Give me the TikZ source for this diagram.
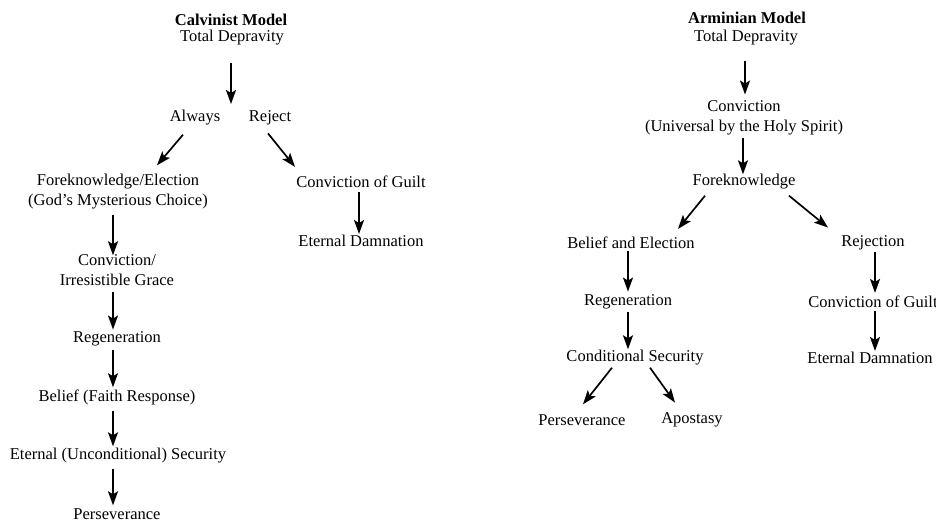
\documentclass[tikz,border=0pt]{standalone}
\usepackage{fontspec}
\setmainfont{Liberation Serif}
\usetikzlibrary{arrows.meta}
\begin{document}
\begin{tikzpicture}[x=1pt,y=-1pt,
  lbl/.style={inner sep=0pt,align=center,font=\fontsize{16.5}{20}\selectfont},
  ttl/.style={lbl,font=\fontsize{16.5}{20}\selectfont\bfseries},
  arr/.style={line width=1.7pt,-{Stealth[length=14pt,width=10pt,inset=3pt]}}]
\useasboundingbox (0,0) rectangle (936,521);

% Calvinist column
\node[ttl] (cm)  at (231,20)  {Calvinist Model};
\node[lbl] (ltd) at (232,38)  {Total Depravity};
\coordinate (split) at (231,104);
\node[lbl] (alw) at (195,118) {Always};
\node[lbl] (rej) at (270,118) {Reject};
\node[lbl] (fe)  at (118,192) {Foreknowledge/Election\\(God's Mysterious Choice)};
\node[lbl] (cg)  at (361,182) {Conviction of Guilt};
\node[lbl] (ed)  at (361,241) {Eternal Damnation};
\node[lbl] (cig) at (117,270) {Conviction/\\Irresistible Grace};
\node[lbl] (reg) at (117,339) {Regeneration};
\node[lbl] (bel) at (117,397) {Belief (Faith Response)};
\node[lbl] (ets) at (118,456) {Eternal (Unconditional) Security};
\node[lbl] (per) at (117,514) {Perseverance};

\draw[arr] ([shift={(-1,17)}]ltd.south) -- (split);
\draw[arr] ([shift={(-12,9)}]alw.south) -- ([shift={(39,-9)}]fe.north);
\draw[arr] ([shift={(-2,8)}]rej.south) -- ([shift={(-66,-9)}]cg.north);
\draw[arr] ([shift={(-2,4)}]cg.south) -- ([shift={(-2,-1)}]ed.north);
\draw[arr] ([shift={(-5,5)}]fe.south) -- ([shift={(-4,1)}]cig.north);
\draw[arr] ([shift={(-4,6)}]cig.south) -- ([shift={(-4,-2)}]reg.north);
\draw[arr] ([shift={(-4,4)}]reg.south) -- ([shift={(-4,-2)}]bel.north);
\draw[arr] ([shift={(-4,6)}]bel.south) -- ([shift={(-5,-2)}]ets.north);
\draw[arr] ([shift={(-5,5)}]ets.south) -- ([shift={(-4,-3)}]per.north);

% Arminian column
\node[ttl] (am)   at (747,18)  {Arminian Model};
\node[lbl] (rtd)  at (746,38)  {Total Depravity};
\node[lbl] (conv) at (744,118) {Conviction\\(Universal by the Holy Spirit)};
\node[lbl] (fk)   at (744,182) {Foreknowledge};
\node[lbl] (be)   at (631,243) {Belief and Election};
\node[lbl] (rejn) at (873,243) {Rejection};
\node[lbl] (rreg) at (628,302) {Regeneration};
\node[lbl] (cs)   at (635,358) {Conditional Security};
\node[lbl] (rper) at (582,420) {Perseverance};
\node[lbl] (apo)  at (692,420) {Apostasy};
\node[lbl] (rcg)  at (873,302) {Conviction of Guilt};
\node[lbl] (red)  at (870,358) {Eternal Damnation};

\draw[arr] ([shift={(-1,15)}]rtd.south) -- ([shift={(1,-6)}]conv.north);
\draw[arr] ([shift={(-1,3)}]conv.south) -- ([shift={(-1,0)}]fk.north);
\draw[arr] ([shift={(-39,6)}]fk.south) -- ([shift={(47,-8)}]be.north);
\draw[arr] ([shift={(45,6)}]fk.south) -- ([shift={(-45,-8)}]rejn.north);
\draw[arr] ([shift={(-3,2)}]be.south) -- ([shift={(0,-3)}]rreg.north);
\draw[arr] ([shift={(0,3)}]rreg.south) -- ([shift={(-7,-1)}]cs.north);
\draw[arr] ([shift={(-23,2)}]cs.south) -- ([shift={(1,-10)}]rper.north);
\draw[arr] ([shift={(15,2)}]cs.south) -- ([shift={(-17,-10)}]apo.north);
\draw[arr] ([shift={(2,2)}]rejn.south) -- ([shift={(2,-3)}]rcg.north);
\draw[arr] ([shift={(2,3)}]rcg.south) -- ([shift={(5,-1)}]red.north);
\end{tikzpicture}
\end{document}
